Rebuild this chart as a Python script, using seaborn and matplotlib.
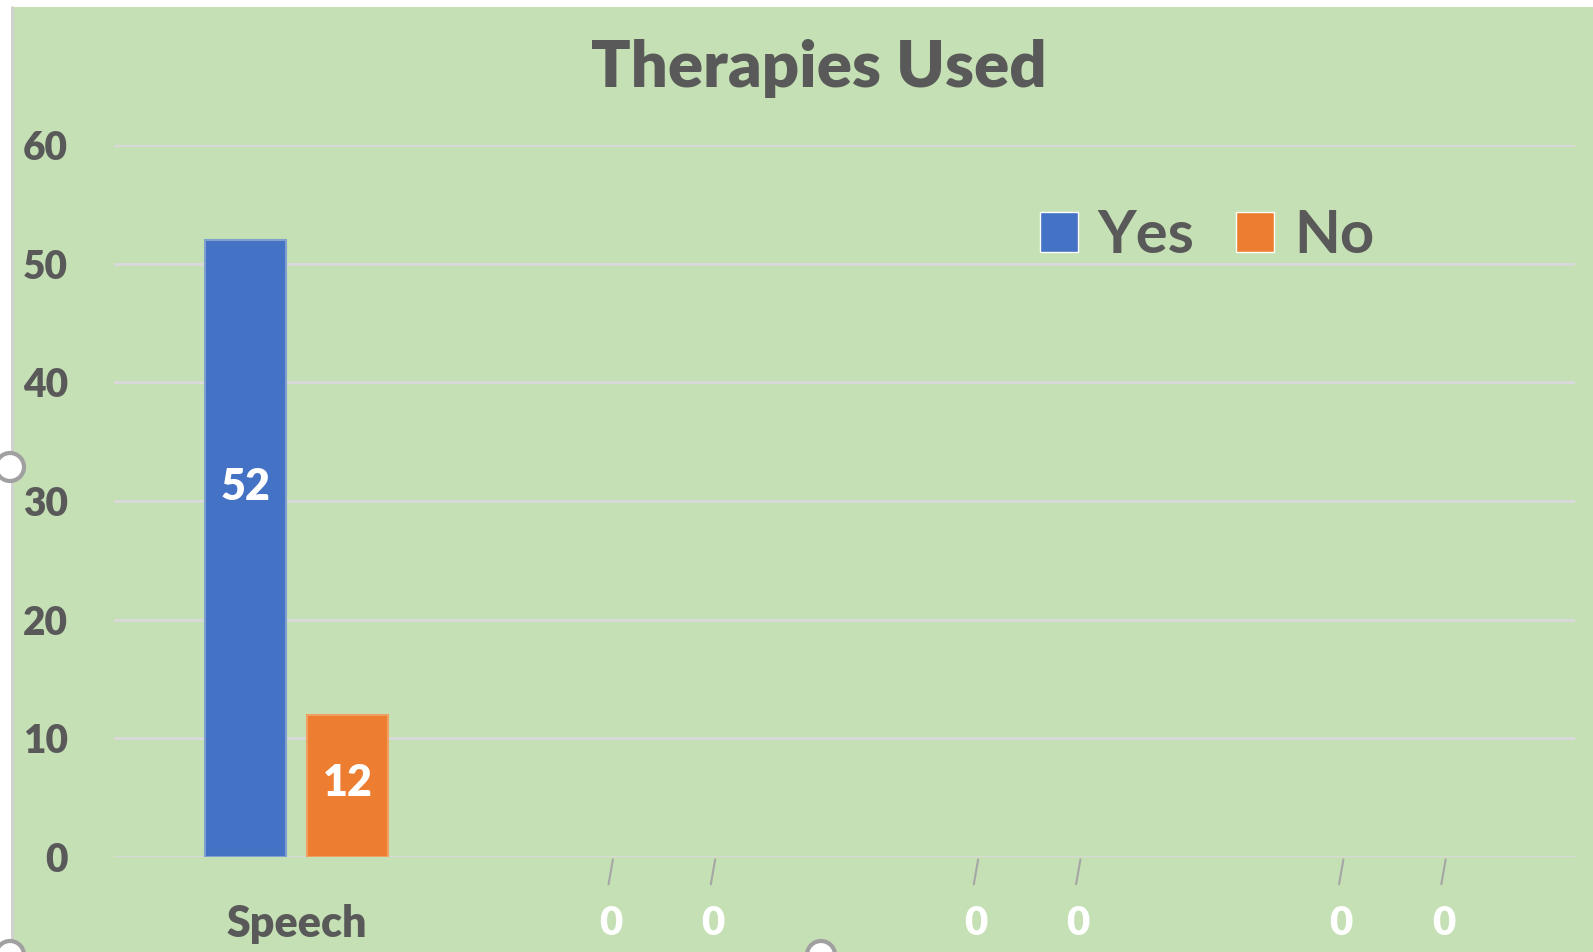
import matplotlib
matplotlib.use("Agg")
import matplotlib.pyplot as plt
from matplotlib.patches import Rectangle, Circle
import seaborn as sb
import pandas as pd

# data
categories = ["Speech", "Therapy 2", "Therapy 3", "Therapy 4"]
tick_labels = ["Speech", "", "", ""]
answers = ["Yes", "No"]
yes_counts = [52, 0, 0, 0]
no_counts = [12, 0, 0, 0]
y_ticks = [0, 10, 20, 30, 40, 50, 60]

BG = "#C5E0B4"
TXT = "#595959"
GRID = "#D9D9D9"
colors = ["#4472C4", "#ED7D31"]
edges = ["#7FA0CC", "#F0A060"]
# where the value label sits inside a bar, as a share of its height
label_frac = [0.6, 0.52]

df = pd.DataFrame({
    "Therapy": categories + categories,
    "Answer": [answers[0]] * len(categories) + [answers[1]] * len(categories),
    "Count": yes_counts + no_counts,
})

sb.set_style("white")
plt.rcParams["font.family"] = ["Lato", "DejaVu Sans"]

W, H = 1593, 952
fig = plt.figure(figsize=(W / 100, H / 100), dpi=100, facecolor="white")

# chart area (green) with white strip on top/left, thin grey frame line
fig.add_artist(Rectangle((11 / W, 0), 1 - 11 / W, 1 - 7 / H, transform=fig.transFigure,
                         facecolor=BG, edgecolor="none", zorder=0))
fig.add_artist(plt.Line2D([11.5 / W, 11.5 / W], [0, 1 - 7 / H], transform=fig.transFigure,
                          color="#D0D0D0", lw=2, zorder=1))

ax = fig.add_axes([114 / W, 1 - 857 / H, (1575 - 114) / W, (857 - 145) / H])
ax.set_facecolor("none")

sb.barplot(data=df, x="Therapy", y="Count", hue="Answer", hue_order=answers,
           palette=colors, saturation=1, width=0.56, gap=0.21, ax=ax,
           edgecolor="none", linewidth=0, legend=True)

ax.set_ylim(0, 60)
ax.set_yticks(y_ticks)
ax.set_xlim(-0.5, len(categories) - 0.5)
ax.grid(axis="y", color=GRID, lw=2.2)
ax.set_axisbelow(True)
for s in ax.spines.values():
    s.set_visible(False)
ax.set_xlabel("")
ax.set_ylabel("")
ax.set_xticks(range(len(categories)))
ax.set_xticklabels(tick_labels)
ax.tick_params(axis="y", length=0, pad=33, labelsize=28, labelcolor=TXT)
ax.tick_params(axis="x", length=0, pad=34, labelsize=31, labelcolor=TXT)
for lbl in ax.get_yticklabels() + ax.get_xticklabels():
    lbl.set_fontweight("heavy")

# value labels: inside the bars when non-zero, below the axis with a leader when zero
for cont, edge, frac in zip(ax.containers, edges, label_frac):
    for bar in cont:
        v = bar.get_height()
        xc = bar.get_x() + bar.get_width() / 2
        if v > 0:
            bar.set_edgecolor(edge)
            bar.set_linewidth(1.5)
            ax.text(xc, v * frac, f"{v:.0f}", ha="center", va="center", color="white",
                    fontsize=31, fontweight="heavy")
        else:
            bar.set_visible(False)
            ax.plot([xc + 0.006, xc - 0.006], [-0.2, -2.3], color="#A6A6A6", lw=1.5,
                    clip_on=False)
            ax.annotate(f"{v:.0f}", xy=(xc, 0), xytext=(0, -48), textcoords="offset points",
                        ha="center", va="center", color="white", fontsize=29,
                        fontweight="heavy", annotation_clip=False)

ax.get_legend().remove()
handles = [Rectangle((0, 0), 1, 1, facecolor=c) for c in colors]
fig.legend(handles, answers, loc="center", bbox_to_anchor=(1207 / W, 1 - 236 / H), ncol=2,
           frameon=False, prop={"size": 43, "weight": "bold"}, labelcolor=TXT,
           handlelength=0.64, handleheight=0.64, handletextpad=0.33, columnspacing=0.7)

fig.text(819 / W, 1 - 68 / H, "Therapies Used", ha="center", va="center", fontsize=47,
         fontweight="heavy", color=TXT)

# selection handles of the original screenshot (pixel coordinates)
for cx, cy in [(10, 467), (821, 955), (10, 955)]:
    fig.add_artist(Circle((cx, H - cy), 14, transform=None,
                          facecolor="white", edgecolor="#A0A0A0", lw=3, zorder=5))

fig.savefig("out.png", dpi=100)
